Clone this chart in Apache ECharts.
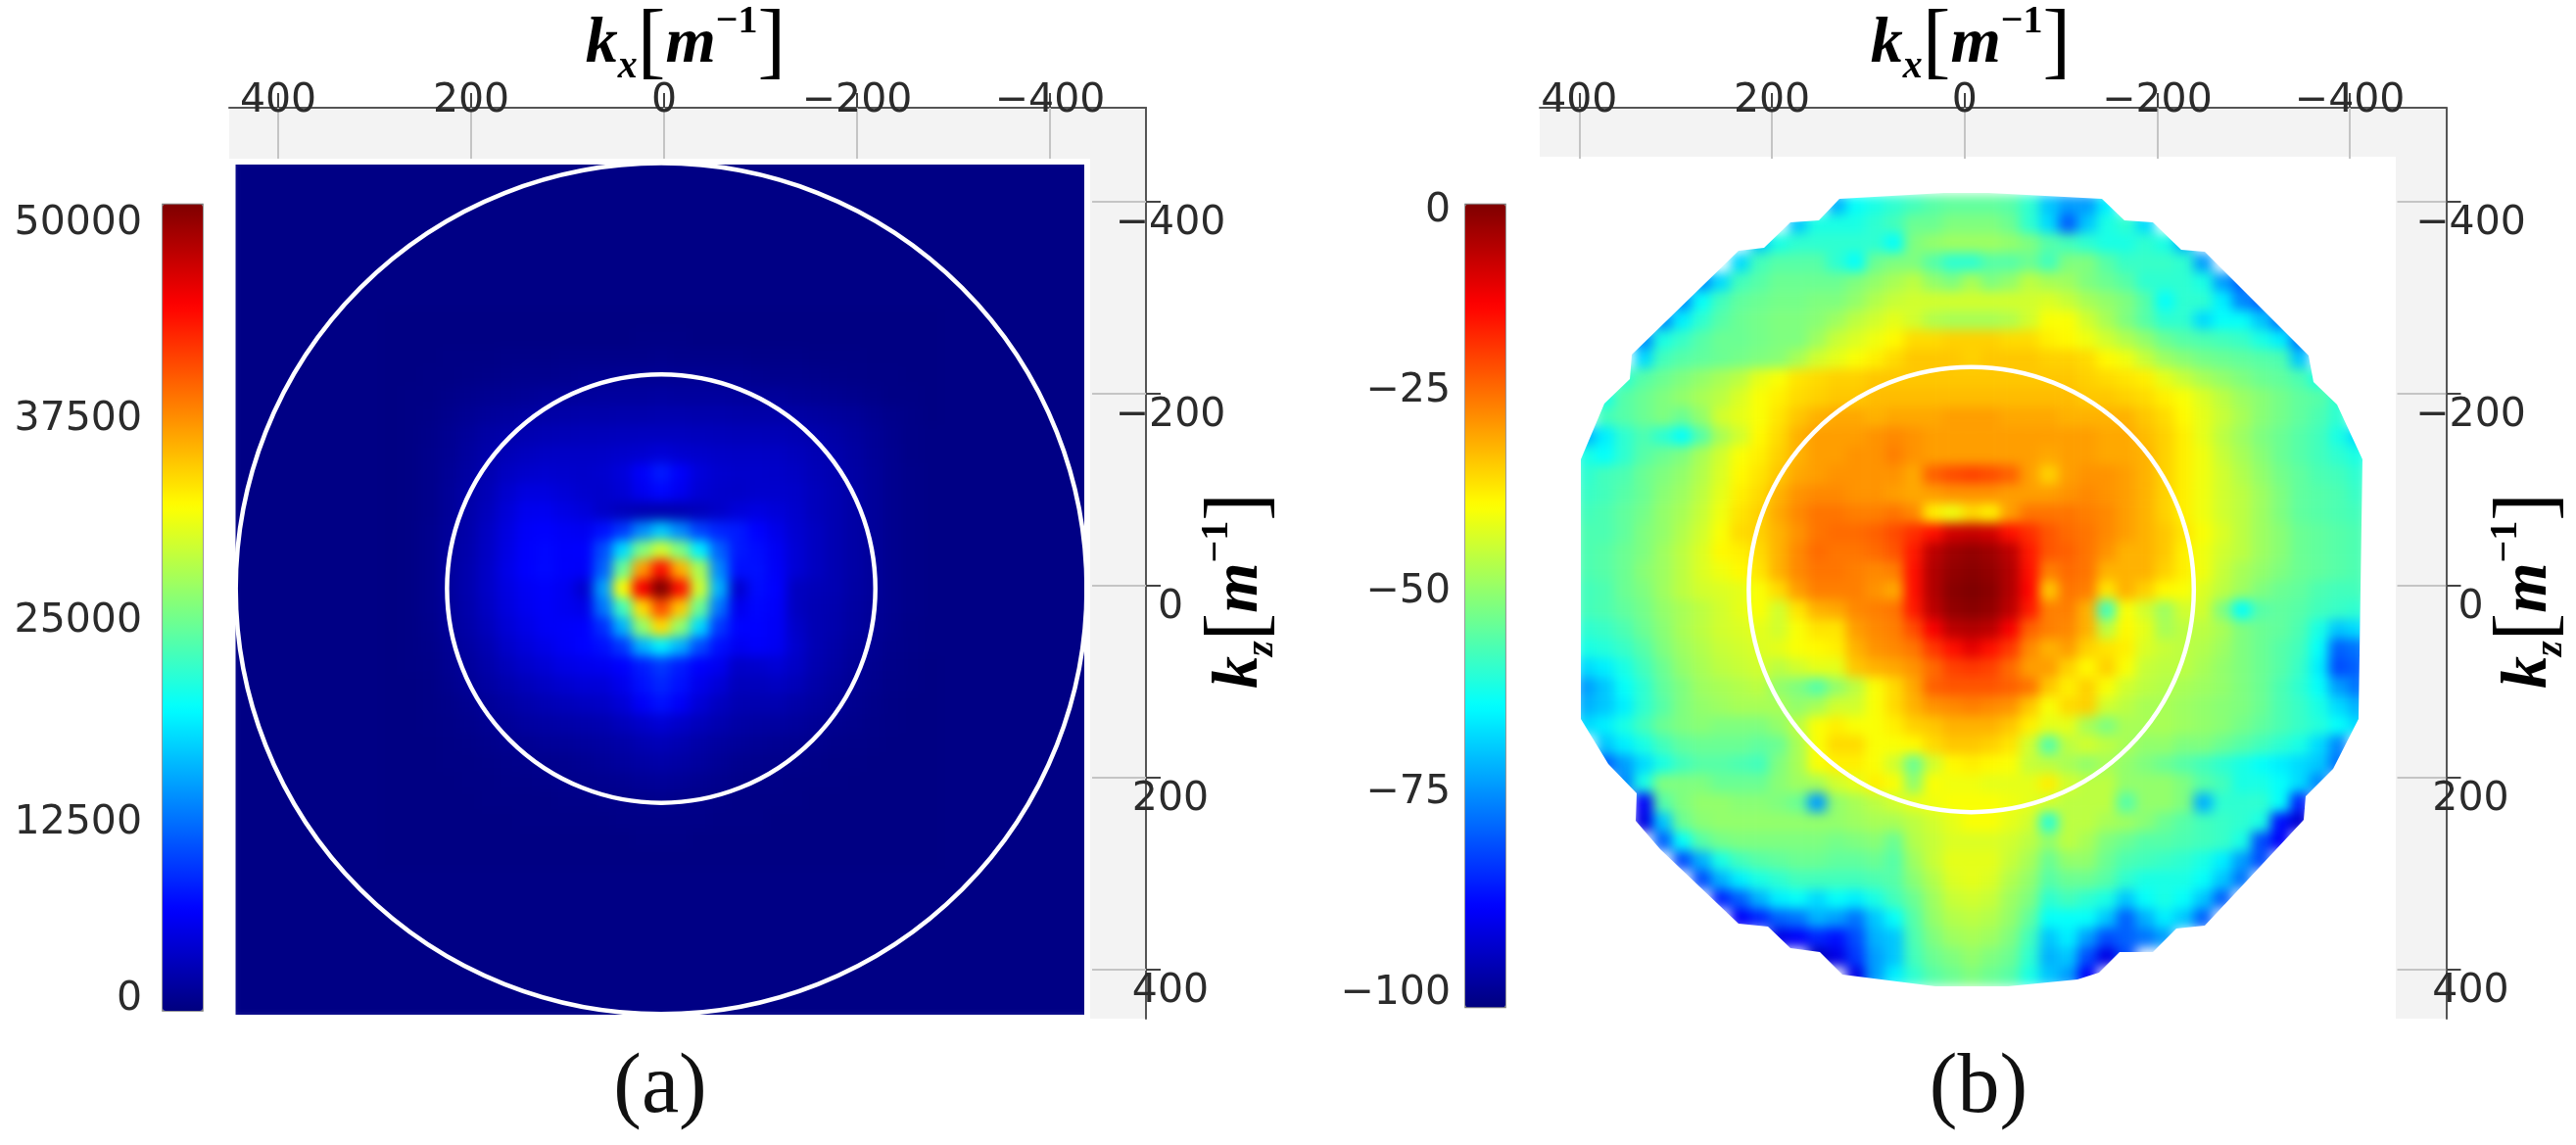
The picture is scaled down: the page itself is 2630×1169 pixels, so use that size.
<!DOCTYPE html>
<html>
<head>
<meta charset="utf-8">
<title>kx kz power maps</title>
<script src="https://cdn.jsdelivr.net/npm/echarts@6/dist/echarts.min.js"></script>
<style>
html, body { margin: 0; background: #fff; }
#chart { width: 2630px; height: 1169px; }
</style>
</head>
<body>
<div id="chart"></div>
<script>
var jetColors = ['#00007f', '#0000ff', '#007fff', '#00ffff', '#7fff7f', '#ffff00', '#ff7f00', '#ff0000', '#7f0000'];
var axisTicks = [400, 200, 0, -200, -400];
var barTicksA = [0, 12500, 25000, 37500, 50000];
var barTicksB = [-100, -75, -50, -25, 0];
var kCellsA = [440,420,400,380,360,340,320,300,280,260,240,220,200,180,160,140,120,100,80,60,40,20,0,-20,-40,-60,-80,-100,-120,-140,-160,-180,-200,-220,-240,-260,-280,-300,-320,-340,-360,-380,-400,-420,-440];
var kCellsB = [400,380,360,340,320,300,280,260,240,220,200,180,160,140,120,100,80,60,40,20,0,-20,-40,-60,-80,-100,-120,-140,-160,-180,-200,-220,-240,-260,-280,-300,-320,-340,-360,-380,-400];
// rings: kx, kz, radius
var ringsA = [[3, 3, 441], [3, 3, 222]];
var ringsB = [[-7, 4, 231]];

// central patch, top row to bottom row; everything outside is ~0
var powerRows = [
[200,200,200,200,200,200,200,200,200,200,200,200,200,200,200,200,200,200,200,200,200,200,200,200,200,200,200,200,200],
[200,200,200,200,200,200,200,200,200,200,200,200,200,300,300,300,200,200,200,200,200,200,200,200,200,200,200,200,200],
[200,200,200,300,300,300,400,400,400,500,500,500,500,500,600,500,500,500,500,400,400,400,300,300,300,200,200,200,200],
[200,200,300,300,400,500,600,700,700,800,900,900,1000,1000,1000,1000,1000,900,900,800,700,700,600,500,400,300,300,200,200],
[200,300,300,500,700,900,1000,1100,1300,1300,1400,1500,1500,1500,1600,1500,1500,1500,1400,1300,1300,1100,1000,900,700,500,300,300,200],
[200,300,400,700,1000,1300,1500,1700,1900,2000,2100,2100,2200,2200,2300,2300,2200,2200,2100,2000,2000,1800,1600,1400,1200,900,600,400,200],
[200,300,500,900,1300,1800,2100,2400,2600,2700,2800,2900,3000,3100,3100,3100,3000,2900,2800,2800,2700,2500,2200,1900,1500,1100,700,400,300],
[200,300,600,1000,1500,2100,2700,3100,3300,3400,3400,3500,3700,3900,4300,3900,3700,3500,3400,3400,3300,3000,2600,2200,1700,1200,800,400,300],
[200,300,600,1100,1700,2400,3200,3700,3900,3800,3700,3900,4500,6000,7500,6000,4500,3900,3700,3700,3600,3300,2800,2400,1800,1300,800,500,300],
[200,300,600,1200,1900,2700,3800,4700,4700,4300,3900,3700,4200,5500,6500,5500,4200,3700,3600,3800,3800,3600,3000,2500,1900,1300,800,500,300],
[200,300,600,1200,2000,3000,4300,5400,5500,5000,4500,3600,3000,2500,2400,2500,3000,3600,4400,4800,4400,3800,3000,2500,1900,1300,800,500,300],
[200,300,700,1300,2100,3300,4700,5900,6200,5800,5600,7000,9000,13000,16000,13000,9500,8000,7500,6300,5200,4000,3200,2500,1900,1300,800,500,300],
[200,300,700,1400,2200,3400,4900,6100,6500,6100,6200,10000,17000,25000,29000,25000,18000,11000,7500,6800,5700,4200,3200,2500,1900,1300,800,500,300],
[200,300,700,1400,2300,3500,5100,6200,6600,6100,6000,11000,24000,36000,43000,35000,27000,13000,7000,7000,5900,4200,3200,2500,1900,1300,800,500,300],
[200,300,700,1400,2300,3500,4800,5700,6100,5600,4000,14000,31000,44000,50000,43000,29000,15000,4000,6800,6200,3200,2800,2500,1800,1300,800,500,300],
[200,300,700,1300,2200,3300,4600,5500,6000,5600,5200,12000,22000,33000,40000,34000,24000,12000,5400,6500,6000,3200,2600,2300,1700,1200,800,500,300],
[200,300,600,1200,2000,3000,4200,5100,5800,6000,6200,8500,15000,26000,33000,26000,17000,9000,6400,6300,5800,3600,2600,2200,1600,1100,700,400,300],
[200,300,500,1000,1700,2500,3600,4500,5200,5800,6300,7000,9000,15000,18000,15000,10000,7000,5600,6000,5600,3800,2600,2000,1400,1000,600,400,300],
[200,300,400,900,1400,2100,3000,3700,4300,5000,5300,5600,6200,7600,9000,7600,6200,5500,3600,3800,4200,3400,2400,1800,1200,800,500,300,200],
[200,200,300,700,1100,1700,2300,2900,3400,3900,4300,4400,5300,7000,8000,7000,5300,4300,3000,3000,3200,2800,2000,1500,1000,700,400,300,200],
[200,200,300,500,800,1200,1700,2200,2600,2900,3200,3500,4300,5900,7000,5900,4300,3200,2500,2400,2400,2000,1600,1200,800,500,300,200,200],
[200,200,300,400,600,900,1200,1600,1800,2000,2200,2400,3000,3600,4200,3600,3000,2400,1900,1700,1600,1400,1100,800,600,400,300,200,200],
[200,200,200,300,400,600,800,1000,1200,1300,1500,1700,2000,2500,2800,2500,2000,1600,1300,1100,1000,900,700,500,400,300,200,200,200],
[200,200,200,300,300,400,500,600,700,800,1000,1200,1500,1800,2000,1800,1500,1100,800,700,600,500,400,300,300,200,200,200,200],
[200,200,200,200,300,300,400,400,500,600,700,800,900,1100,1200,1100,900,700,500,400,400,300,300,300,200,200,200,200,200],
[200,200,200,200,200,300,300,300,300,400,400,500,500,600,700,600,500,400,300,300,300,300,200,200,200,200,200,200,200],
[200,200,200,200,200,200,200,300,300,300,300,300,400,400,400,400,400,300,300,300,200,200,200,200,200,200,200,200,200],
[200,200,200,200,200,200,200,200,200,200,200,200,200,300,300,300,200,200,200,200,200,200,200,200,200,200,200,200,200],
[200,200,200,200,200,200,200,200,200,200,200,200,200,200,200,200,200,200,200,200,200,200,200,200,200,200,200,200,200]
];

// one row per kz, rows are centred on kx = 0
var dbRows = [
[-70,-62,-60,-58,-56,-54,-53,-53,-53,-54,-58,-68,-72,-72,-64],
[-68,-60,-60,-60,-58,-56,-52,-52,-50,-50,-50,-52,-58,-66,-78,-68,-60,-58,-66],
[-68,-60,-58,-58,-58,-58,-58,-62,-50,-48,-47,-47,-47,-48,-50,-54,-56,-58,-60,-60,-58,-60,-70],
[-66,-56,-54,-54,-54,-58,-62,-52,-50,-50,-54,-58,-58,-54,-54,-52,-56,-50,-50,-54,-57,-57,-57,-58,-72],
[-74,-66,-56,-54,-52,-52,-52,-52,-50,-48,-46,-44,-48,-50,-46,-50,-48,-44,-46,-47,-50,-52,-54,-58,-58,-58,-60,-72,-78],
[-74,-62,-56,-53,-52,-51,-51,-50,-50,-48,-45,-43,-42,-42,-42,-42,-42,-42,-42,-41,-43,-46,-48,-50,-54,-62,-58,-58,-64,-74,-78],
[-74,-64,-58,-54,-52,-51,-50,-50,-49,-47,-44,-42,-40,-42,-45,-46,-46,-46,-45,-42,-38,-38,-42,-46,-50,-54,-58,-58,-66,-62,-62,-68,-76],
[-74,-60,-57,-54,-52,-52,-51,-50,-50,-47,-43,-41,-39,-37,-34,-34,-33,-33,-33,-34,-34,-36,-37,-39,-42,-45,-48,-52,-54,-55,-56,-57,-60,-64,-76],
[-66,-56,-54,-53,-52,-51,-50,-49,-46,-42,-40,-38,-36,-34,-32,-32,-32,-33,-32,-32,-32,-33,-33,-34,-37,-39,-43,-47,-49,-51,-52,-53,-54,-55,-68],
[-58,-54,-52,-50,-48,-46,-44,-40,-38,-35,-34,-33,-33,-32,-32,-32,-32,-32,-32,-32,-32,-32,-32,-32,-33,-34,-35,-36,-40,-43,-46,-48,-50,-52,-53,-55,-60],
[-60,-54,-52,-50,-48,-46,-44,-41,-38,-36,-34,-33,-32,-32,-31,-31,-31,-31,-31,-31,-31,-31,-31,-31,-31,-32,-32,-33,-34,-36,-38,-41,-44,-47,-49,-51,-53,-54,-58],
[-56,-54,-52,-50,-52,-48,-42,-40,-38,-35,-32,-30,-29,-29,-30,-29,-29,-29,-28,-28,-28,-29,-29,-29,-30,-30,-30,-30,-32,-34,-37,-40,-43,-46,-49,-51,-53,-55,-58],
[-70,-64,-58,-55,-58,-62,-54,-46,-42,-37,-34,-30,-28,-28,-28,-27,-26,-27,-28,-28,-28,-28,-28,-28,-28,-28,-28,-29,-29,-31,-33,-36,-40,-44,-47,-50,-52,-54,-56,-60,-66],
[-60,-62,-58,-54,-52,-50,-46,-42,-38,-36,-33,-30,-28,-28,-27,-27,-25,-27,-28,-28,-28,-28,-28,-28,-29,-28,-28,-29,-29,-30,-33,-36,-39,-43,-46,-49,-52,-54,-56,-58,-60],
[-58,-56,-55,-52,-50,-48,-45,-41,-37,-35,-32,-29,-28,-27,-27,-27,-27,-29,-22,-20,-19,-20,-22,-28,-33,-28,-27,-27,-28,-30,-33,-36,-39,-42,-45,-48,-51,-53,-55,-56,-58],
[-57,-56,-54,-52,-49,-47,-44,-40,-36,-34,-30,-27,-26,-26,-27,-27,-28,-29,-28,-27,-27,-27,-28,-28,-28,-27,-26,-27,-28,-30,-33,-36,-39,-42,-44,-47,-50,-53,-54,-55,-57],
[-56,-55,-53,-51,-48,-46,-43,-39,-35,-33,-29,-26,-24,-24,-25,-25,-24,-26,-36,-39,-34,-36,-28,-24,-24,-24,-25,-26,-28,-30,-33,-36,-39,-42,-44,-47,-50,-53,-54,-55,-56],
[-55,-55,-53,-50,-48,-45,-42,-38,-34,-33,-30,-27,-24,-23,-23,-22,-20,-17,-14,-8,-7,-8,-14,-17,-21,-23,-24,-26,-28,-30,-32,-35,-38,-41,-44,-47,-49,-52,-53,-54,-55],
[-55,-54,-52,-50,-47,-44,-41,-37,-36,-34,-30,-26,-23,-24,-24,-23,-21,-15,-6,-3,-2,-3,-6,-15,-21,-22,-24,-27,-30,-30,-32,-36,-39,-42,-44,-47,-49,-52,-53,-54,-55],
[-55,-54,-52,-49,-47,-44,-41,-39,-37,-35,-30,-26,-24,-24,-25,-26,-25,-14,-5,-2,-1,-2,-5,-14,-25,-23,-24,-30,-30,-30,-33,-36,-39,-43,-46,-48,-50,-52,-53,-54,-55],
[-56,-55,-52,-50,-47,-44,-42,-41,-40,-38,-34,-28,-25,-25,-25,-27,-29,-14,-5,-1,0,-1,-5,-13,-32,-24,-25,-35,-30,-33,-37,-38,-41,-44,-47,-50,-52,-53,-55,-56,-56],
[-56,-55,-53,-51,-48,-46,-44,-42,-40,-38,-42,-35,-30,-29,-26,-25,-24,-15,-6,-2,-1,-2,-6,-15,-25,-25,-30,-56,-38,-42,-47,-42,-42,-50,-62,-54,-53,-54,-56,-57,-58],
[-58,-57,-55,-52,-49,-46,-44,-42,-41,-40,-42,-38,-35,-35,-28,-26,-25,-20,-12,-6,-5,-6,-12,-22,-25,-26,-30,-44,-37,-40,-46,-44,-44,-46,-50,-52,-53,-55,-60,-68,-66],
[-60,-59,-57,-54,-50,-47,-45,-43,-42,-41,-40,-38,-37,-36,-30,-27,-26,-24,-18,-14,-10,-14,-18,-26,-30,-28,-33,-35,-36,-41,-43,-44,-45,-47,-50,-52,-54,-56,-62,-78,-76],
[-66,-64,-60,-56,-52,-48,-46,-44,-43,-42,-44,-42,-40,-40,-32,-30,-29,-27,-23,-19,-18,-19,-23,-28,-28,-33,-37,-33,-38,-43,-44,-44,-46,-48,-50,-52,-54,-57,-64,-80,-78],
[-72,-68,-62,-58,-53,-50,-47,-46,-45,-44,-48,-50,-54,-48,-44,-38,-34,-29,-22,-21,-21,-21,-22,-24,-32,-36,-33,-38,-42,-44,-45,-46,-47,-48,-50,-52,-55,-58,-62,-72,-76],
[-70,-68,-64,-58,-54,-50,-48,-47,-46,-46,-46,-48,-46,-42,-42,-38,-34,-30,-27,-26,-25,-26,-27,-32,-38,-34,-33,-42,-44,-46,-46,-47,-48,-49,-50,-52,-55,-57,-60,-66,-70],
[-66,-64,-60,-56,-52,-50,-49,-50,-50,-50,-48,-44,-38,-36,-38,-38,-36,-33,-32,-30,-30,-30,-32,-36,-40,-40,-46,-50,-46,-46,-46,-47,-48,-49,-51,-53,-55,-57,-59,-62,-66],
[-68,-64,-60,-56,-53,-52,-52,-52,-53,-52,-46,-38,-34,-34,-38,-38,-37,-34,-32,-32,-33,-35,-42,-54,-44,-42,-44,-46,-48,-48,-50,-50,-52,-54,-56,-58,-60,-66,-74],
[-78,-72,-66,-60,-56,-54,-54,-55,-56,-50,-46,-38,-36,-36,-38,-42,-52,-42,-37,-36,-37,-38,-43,-44,-46,-48,-46,-48,-50,-52,-54,-56,-58,-60,-62,-64,-66,-68,-76],
[-74,-60,-50,-50,-50,-52,-52,-52,-49,-47,-46,-42,-40,-36,-38,-48,-38,-39,-39,-40,-40,-40,-36,-42,-44,-44,-48,-48,-48,-50,-54,-56,-60,-60,-62,-66,-74],
[-88,-54,-50,-48,-48,-49,-49,-50,-52,-72,-48,-46,-44,-42,-40,-39,-38,-38,-38,-39,-40,-42,-44,-44,-44,-54,-48,-48,-50,-70,-58,-58,-58,-62,-84],
[-90,-68,-52,-49,-48,-48,-48,-48,-48,-48,-48,-47,-46,-46,-44,-42,-40,-38,-38,-40,-42,-58,-44,-44,-46,-47,-49,-52,-54,-56,-57,-58,-60,-86,-92],
[-78,-62,-54,-51,-50,-50,-50,-50,-50,-51,-50,-49,-52,-45,-43,-41,-41,-41,-42,-44,-48,-44,-46,-50,-52,-54,-54,-55,-56,-57,-60,-80,-88],
[-80,-70,-60,-56,-54,-53,-52,-52,-53,-53,-52,-54,-47,-43,-40,-40,-40,-43,-46,-52,-48,-48,-52,-55,-56,-57,-58,-60,-64,-72,-80],
[-80,-70,-64,-60,-58,-56,-56,-56,-56,-55,-54,-49,-45,-41,-40,-41,-45,-48,-54,-52,-52,-54,-58,-60,-60,-60,-62,-68,-76],
[-84,-78,-70,-64,-62,-66,-62,-64,-60,-56,-52,-47,-43,-42,-43,-47,-50,-58,-56,-58,-60,-68,-62,-60,-62,-68,-78],
[-88,-84,-78,-76,-70,-72,-76,-68,-62,-54,-48,-45,-44,-45,-48,-53,-62,-62,-62,-68,-78,-70,-64,-68,-78],
[-90,-88,-84,-86,-80,-70,-68,-55,-50,-47,-46,-47,-50,-56,-68,-64,-72,-80,-78,-76,-72],
[-94,-90,-82,-72,-68,-56,-52,-50,-48,-50,-52,-58,-70,-68,-80,-90,-80],
[-90,-72,-64,-58,-54,-52,-50,-52,-54,-60,-68,-72,-88]
];

// rows can be shorter than the cell count, they get centred
function toCells(rows, size) {
    var out = [];
    var top = Math.floor((size - rows.length) / 2);
    rows.forEach(function (row, i) {
        var left = Math.floor((size - row.length) / 2);
        row.forEach(function (v, j) {
            out.push([left + j, top + i, v]);
        });
    });
    return out;
}

function tickText(v) {
    return v < 0 ? '\u2212' + (-v) : '' + v;
}

var labelFont = 'DejaVu Sans';
var labelColor = '#2b2b2b';
var labelSize = 41;
var kStyle = {
    k: { fontFamily: 'Liberation Serif', fontStyle: 'italic', fontWeight: 'bold', fontSize: 66, color: '#111' },
    s: { fontFamily: 'Liberation Serif', fontStyle: 'italic', fontWeight: 'bold', fontSize: 40, color: '#111', verticalAlign: 'bottom', padding: [20, 0, 0, 0] },
    b: { fontFamily: 'Liberation Serif', fontSize: 86, color: '#111' },
    u: { fontFamily: 'Liberation Serif', fontWeight: 'bold', fontSize: 40, color: '#111', verticalAlign: 'top', padding: [0, 0, 20, 0] }
};

function heatGrid(cx, cy, n, bg) {
    var w = n * 19.7;
    return { show: true, backgroundColor: bg, borderWidth: 0, zlevel: -1, left: cx - w / 2, top: cy - w / 2, width: w, height: w };
}

function barGrid(left, top, height) {
    return { show: true, backgroundColor: 'transparent', borderColor: '#777', borderWidth: 1.5, left: left, top: top, width: 41, height: height };
}

function ringSeries(data, xi) {
    return {
        type: 'custom', xAxisIndex: xi, yAxisIndex: xi, data: data, clip: false, silent: true,
        renderItem: function (params, api) {
            var c = api.coord([api.value(0), api.value(1)]);
            var r = api.size([api.value(2), 0])[0];
            return { type: 'circle', shape: { cx: c[0], cy: c[1], r: r }, style: { fill: null, stroke: '#fff', lineWidth: 4.5 } };
        }
    };
}

function frameX(gridIndex, minV, maxV) {
    return {
        type: 'value', gridIndex: gridIndex, position: 'top', inverse: true, min: minV, max: maxV,
        axisLine: { show: true, onZero: false, lineStyle: { color: '#555', width: 2 } },
        axisTick: { show: true, inside: true, length: 52, customValues: axisTicks, lineStyle: { color: '#c4c4c4', width: 2 } },
        axisLabel: { margin: -14, customValues: axisTicks, fontFamily: labelFont, fontSize: labelSize, color: labelColor, formatter: tickText },
        splitLine: { show: false }
    };
}

function frameY(gridIndex, tickLen) {
    return {
        type: 'value', gridIndex: gridIndex, position: 'right', inverse: true, min: -498, max: 451,
        axisLine: { show: true, onZero: false, lineStyle: { color: '#555', width: 2 } },
        axisTick: { show: true, inside: true, length: tickLen, customValues: axisTicks, lineStyle: { color: '#c4c4c4', width: 2 } },
        axisLabel: { margin: 25, align: 'center', verticalAlign: 'top', padding: [2, 0, 0, 0], customValues: axisTicks, fontFamily: labelFont, fontSize: labelSize, color: labelColor, formatter: tickText },
        splitLine: { show: false }
    };
}

// short dark ticks crossing the frame line
function crossTicks(axis) {
    axis.axisLine = { show: false, onZero: false };
    axis.axisLabel = { show: false };
    axis.axisTick = { show: true, inside: false, length: 15, customValues: axisTicks, lineStyle: { color: '#444', width: 2 } };
    return axis;
}

var myChart = echarts.init(document.getElementById('chart'));
myChart.setOption({
    animation: false,
    grid: [
        heatGrid(675, 601, kCellsA.length, '#000085'),
        { left: 234, top: 110, width: 936, height: 930 },
        barGrid(166, 208.6, 823.4),
        heatGrid(2013, 603, kCellsB.length, 'transparent'),
        { left: 1572, top: 110, width: 925.5, height: 930 },
        barGrid(1496, 208.6, 820)
    ],
    xAxis: [
        { type: 'category', gridIndex: 0, data: kCellsA, show: false },
        frameX(1, -499.5, 450.8),
        { type: 'value', gridIndex: 2, show: false },
        { type: 'category', gridIndex: 3, data: kCellsB, show: false },
        frameX(4, -500, 441),
        { type: 'value', gridIndex: 5, show: false },
        crossTicks(frameX(1, -499.5, 450.8)),
        crossTicks(frameX(4, -500, 441))
    ],
    yAxis: [
        { type: 'category', gridIndex: 0, inverse: true, data: kCellsA.slice().reverse(), show: false },
        frameY(1, 55),
        {
            type: 'value', gridIndex: 2, position: 'left', min: 0, max: 50000,
            axisLine: { show: false }, axisTick: { show: false }, splitLine: { show: false },
            axisLabel: {
                margin: 21, customValues: barTicksA,
                formatter: function (v) { return v === 0 ? '{low|' + v + '}' : v === 50000 ? '{top|' + v + '}' : '{mid|' + v + '}'; },
                rich: {
                    low: { fontFamily: labelFont, fontSize: labelSize, color: labelColor, padding: [0, 0, 24, 0] },
                    mid: { fontFamily: labelFont, fontSize: labelSize, color: labelColor, padding: [28, 0, 0, 0] },
                    top: { fontFamily: labelFont, fontSize: labelSize, color: labelColor, padding: [40, 0, 0, 0] }
                }
            }
        },
        { type: 'category', gridIndex: 3, inverse: true, data: kCellsB.slice().reverse(), show: false },
        frameY(4, 50),
        {
            type: 'value', gridIndex: 5, position: 'left', min: -100, max: 0,
            axisLine: { show: false }, axisTick: { show: false }, splitLine: { show: false },
            axisLabel: {
                margin: 15, customValues: barTicksB,
                formatter: function (v) { return (v === 0 ? '{top|' : '{mid|') + tickText(v) + '}'; },
                rich: {
                    mid: { fontFamily: labelFont, fontSize: labelSize, color: labelColor, padding: [0, 0, 28, 0] },
                    top: { fontFamily: labelFont, fontSize: labelSize, color: labelColor, padding: [14, 0, 0, 0] }
                }
            }
        },
        crossTicks(frameY(1, 55)),
        crossTicks(frameY(4, 50))
    ],
    visualMap: [
        { type: 'continuous', seriesIndex: 0, min: 0, max: 50000, left: 166, top: 208.6, itemWidth: 41, itemHeight: 823.4, padding: 0, calculable: false, hoverLink: false, inRange: { color: jetColors } },
        { type: 'continuous', seriesIndex: 2, min: -100, max: 0, left: 1496, top: 208.6, itemWidth: 41, itemHeight: 820, padding: 0, calculable: false, hoverLink: false, inRange: { color: jetColors } }
    ],
    graphic: {
        elements: [
            { type: 'rect', z: -5, silent: true, shape: { x: 234, y: 110, width: 936, height: 52 }, style: { fill: '#f3f3f3' } },
            { type: 'rect', z: -5, silent: true, shape: { x: 1113, y: 110, width: 57, height: 930 }, style: { fill: '#f3f3f3' } },
            { type: 'rect', z: -5, silent: true, shape: { x: 1572, y: 110, width: 925.5, height: 50 }, style: { fill: '#f3f3f3' } },
            { type: 'rect', z: -5, silent: true, shape: { x: 2446, y: 110, width: 51.5, height: 930 }, style: { fill: '#f3f3f3' } },
            { type: 'text', x: 700, y: 46, style: { text: '{k|k}{s|x}{b|[}{k|m}{u|\u22121}{b|]}', rich: kStyle, align: 'center', verticalAlign: 'middle' } },
            { type: 'text', x: 2012, y: 46, style: { text: '{k|k}{s|x}{b|[}{k|m}{u|\u22121}{b|]}', rich: kStyle, align: 'center', verticalAlign: 'middle' } },
            { type: 'text', x: 1266, y: 603, rotation: Math.PI / 2, style: { text: '{k|k}{s|z}{b|[}{k|m}{u|\u22121}{b|]}', rich: kStyle, align: 'center', verticalAlign: 'middle' } },
            { type: 'text', x: 2582, y: 603, rotation: Math.PI / 2, style: { text: '{k|k}{s|z}{b|[}{k|m}{u|\u22121}{b|]}', rich: kStyle, align: 'center', verticalAlign: 'middle' } },
            { type: 'text', x: 674, y: 1112, style: { text: '(a)', fontFamily: 'Liberation Serif', fontSize: 86, fill: '#111', align: 'center', verticalAlign: 'middle' } },
            { type: 'text', x: 2020, y: 1112, style: { text: '(b)', fontFamily: 'Liberation Serif', fontSize: 86, fill: '#111', align: 'center', verticalAlign: 'middle' } }
        ]
    },
    series: [
        { type: 'heatmap', name: 'a', xAxisIndex: 0, yAxisIndex: 0, zlevel: -1, progressive: 0, silent: true, data: toCells(powerRows, kCellsA.length) },
        ringSeries(ringsA, 1),
        { type: 'heatmap', name: 'b', xAxisIndex: 3, yAxisIndex: 3, zlevel: -1, progressive: 0, silent: true, data: toCells(dbRows, kCellsB.length) },
        ringSeries(ringsB, 4)
    ]
});

// the originals are shaded between mesh points, soften only the heatmap canvas;
// the clip is panel (a)'s square and panel (b)'s outline
var heatLayer = myChart.getDom().querySelectorAll('canvas')[0];
heatLayer.style.filter = 'blur(6px)';
heatLayer.style.clipPath = "path('M240.5 168H1107V1036H240.5Z " +
    "M1878 203L1985 197L2030 197L2146 203L2169 225L2198 227L2227 255L2251 257L2357 363L2362 390L2386 413L2412 469L2408 734L2382 785L2354 813L2352 837L2251 945L2222 948L2198 972L2164 972L2143 993L2121 1000L2050 1007L1976 1007L1881 995L1858 972L1828 968L1805 946L1775 943L1695 867L1670 838L1671 810L1642 780L1614 734L1614 469L1638 412L1664 387L1666 362L1775 256L1801 253L1828 227L1857 225Z')";
</script>
</body>
</html>
